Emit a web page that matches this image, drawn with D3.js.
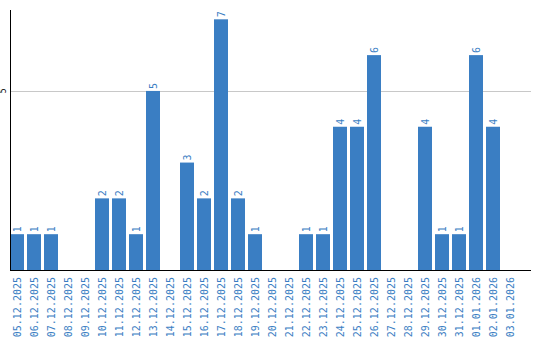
<!DOCTYPE html>
<html>
<head>
<meta charset="utf-8">
<script src="https://cdn.jsdelivr.net/npm/d3@7/dist/d3.min.js"></script>
<style>
html,body{margin:0;padding:0;background:#fff;}
svg{display:block;}
</style>
</head>
<body>
<svg id="chart" width="540" height="340"></svg>
<script>
const categories = ["05.12.2025","06.12.2025","07.12.2025","08.12.2025","09.12.2025","10.12.2025","11.12.2025","12.12.2025","13.12.2025","14.12.2025","15.12.2025","16.12.2025","17.12.2025","18.12.2025","19.12.2025","20.12.2025","21.12.2025","22.12.2025","23.12.2025","24.12.2025","25.12.2025","26.12.2025","27.12.2025","28.12.2025","29.12.2025","30.12.2025","31.12.2025","01.01.2026","02.01.2026","03.01.2026"];
const values = [1,1,1,0,0,2,2,1,5,0,3,2,7,2,1,0,0,1,1,4,4,6,0,0,4,1,1,6,4,0];
const yTicks = [5];

(function () {
const svg = d3.select("#chart");
const mLeft = 10, mRight = 531, mTop = 10, mBottom = 270;
const barColor = "#3a7ec3";

const x = d3.scaleBand().domain(categories).range([mLeft, 517]).paddingInner(3/17).paddingOuter(0);
const y = d3.scaleLinear().domain([0, 7.26]).range([mBottom, mTop]);

// gridlines
svg.append("g").selectAll("line").data(yTicks).join("line")
  .attr("x1", mLeft).attr("x2", mRight)
  .attr("y1", d => Math.round(y(d)) + 0.5).attr("y2", d => Math.round(y(d)) + 0.5)
  .attr("stroke", "#c8c8c8").attr("stroke-width", 1);

// y tick labels
svg.append("g").selectAll("text").data(yTicks).join("text")
  .attr("transform", d => `translate(6,${y(d)}) rotate(-90)`)
  .attr("text-anchor", "middle")
  .attr("font-family", "DejaVu Sans Mono, monospace")
  .attr("font-size", 8)
  .attr("fill", "#000")
  .text(d => d);

// bars
svg.append("g").selectAll("rect").data(values).join("rect")
  .attr("x", (d, i) => x(categories[i]))
  .attr("y", d => y(d))
  .attr("width", x.bandwidth())
  .attr("height", d => mBottom - y(d))
  .attr("fill", barColor);

// value labels
svg.append("g").selectAll("text").data(values.map((v, i) => ({v, c: categories[i]})).filter(d => d.v > 0)).join("text")
  .attr("transform", d => `translate(${x(d.c) + x.bandwidth()/2 + 3.5},${y(d.v) - 2}) rotate(-90)`)
  .attr("text-anchor", "start")
  .attr("font-family", "DejaVu Sans Mono, monospace")
  .attr("font-size", 10)
  .attr("fill", barColor)
  .text(d => d.v);

// axes lines
svg.append("line").attr("x1", mLeft + 0.5).attr("x2", mLeft + 0.5).attr("y1", mTop).attr("y2", mBottom + 0.5)
  .attr("stroke", "#000").attr("stroke-width", 1);
svg.append("line").attr("x1", mLeft).attr("x2", mRight).attr("y1", mBottom + 0.5).attr("y2", mBottom + 0.5)
  .attr("stroke", "#000").attr("stroke-width", 1);

// x labels
svg.append("g").selectAll("text").data(categories).join("text")
  .attr("transform", d => `translate(${x(d) + x.bandwidth()/2 + 3.5},277) rotate(-90)`)
  .attr("text-anchor", "end")
  .attr("font-family", "DejaVu Sans Mono, monospace")
  .attr("font-size", 10)
  .attr("fill", barColor)
  .text(d => d);
})();
</script>
</body>
</html>
